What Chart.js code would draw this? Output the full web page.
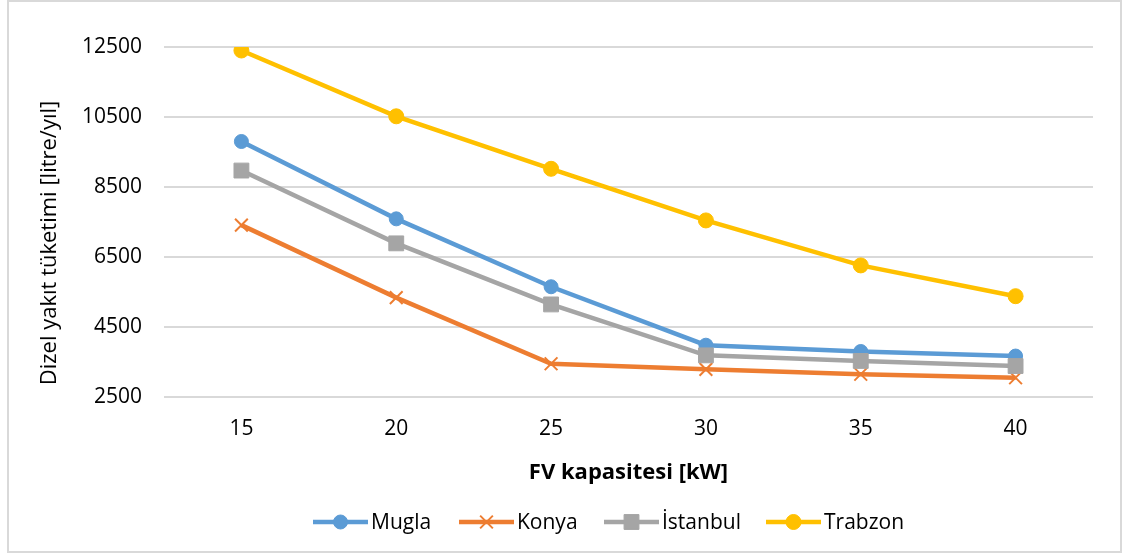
<!DOCTYPE html>
<html>
<head>
<meta charset="utf-8">
<script src="https://cdn.jsdelivr.net/npm/chart.js@4"></script>
<style>
  html, body { margin: 0; padding: 0; background: #fff; }
  #wrap { width: 1125px; height: 554px; position: relative; }
</style>
</head>
<body>
<div id="wrap"><canvas id="c" width="1125" height="554"></canvas></div>
<script>
const categories = ['15', '20', '25', '30', '35', '40'];
const mugla    = [9800, 7590, 5650, 3980, 3800, 3670];
const konya    = [7410, 5340, 3450, 3290, 3150, 3050];
const istanbul = [8970, 6890, 5145, 3690, 3530, 3385];
const trabzon  = [12400, 10520, 9020, 7545, 6260, 5380];
const seriesNames = ['Mugla', 'Konya', 'İstanbul', 'Trabzon'];
const yTitle = 'Dizel yakıt tüketimi [litre/yıl]';
const xTitle = 'FV kapasitesi [kW]';

const FONT = "'Open Sans', 'DejaVu Sans', sans-serif";
const colors = ['#5B9BD5', '#ED7D31', '#A5A5A5', '#FFC000'];
const styles = [
  { pointStyle: 'circle', r: 7, bw: 1 },
  { pointStyle: 'crossRot', r: 9, bw: 2 },
  { pointStyle: 'rect', r: 10.5, bw: 1 },
  { pointStyle: 'circle', r: 7.5, bw: 1 }
];
const values = [mugla, konya, istanbul, trabzon];

const datasets = values.map((v, i) => ({
  label: seriesNames[i],
  data: v,
  borderColor: colors[i],
  backgroundColor: colors[i],
  borderWidth: 4.5,
  tension: 0,
  pointStyle: styles[i].pointStyle,
  pointRadius: styles[i].r,
  pointHoverRadius: styles[i].r,
  pointBorderWidth: styles[i].bw,
  pointBackgroundColor: colors[i],
  pointBorderColor: colors[i],
  order: 3 - i
}));

const decor = {
  id: 'decor',
  beforeDraw(chart) {
    const ctx = chart.ctx;
    ctx.save();
    ctx.fillStyle = '#fff';
    ctx.fillRect(0, 0, chart.width, chart.height);
    ctx.strokeStyle = '#D9D9D9';
    ctx.lineWidth = 2;
    ctx.strokeRect(8, 1, 1113, 551);
    ctx.restore();
  },
  afterDraw(chart) {
    const ctx = chart.ctx;
    ctx.save();
    ctx.translate(50, 243);
    ctx.rotate(-Math.PI / 2);
    ctx.font = '22px ' + FONT;
    ctx.fillStyle = '#000';
    ctx.textAlign = 'center';
    ctx.textBaseline = 'middle';
    ctx.fillText(yTitle, 0, 0);
    ctx.restore();

    const starts = [313, 459, 604, 766];
    const ly = 522;
    ctx.save();
    ctx.font = '21px ' + FONT;
    ctx.textBaseline = 'middle';
    ctx.textAlign = 'left';
    seriesNames.forEach((name, i) => {
      const x0 = starts[i];
      ctx.strokeStyle = colors[i];
      ctx.lineWidth = 4.5;
      ctx.beginPath();
      ctx.moveTo(x0, ly);
      ctx.lineTo(x0 + 55, ly);
      ctx.stroke();
      ctx.fillStyle = colors[i];
      ctx.strokeStyle = colors[i];
      ctx.lineWidth = styles[i].bw;
      Chart.helpers.drawPoint(ctx, {
        pointStyle: styles[i].pointStyle,
        radius: styles[i].r,
        borderWidth: styles[i].bw,
        rotation: 0
      }, x0 + 27.5, ly);
      ctx.fillStyle = '#000';
      ctx.fillText(name, x0 + 58, ly + 1);
    });
    ctx.restore();
  }
};

new Chart(document.getElementById('c'), {
  type: 'line',
  data: { labels: categories, datasets },
  options: {
    responsive: false,
    animation: false,
    events: [],
    layout: { padding: { left: 0, right: 32, top: 47, bottom: 59 } },
    plugins: { legend: { display: false }, tooltip: { enabled: false } },
    scales: {
      x: {
        type: 'category',
        offset: true,
        grid: { display: false, drawTicks: false },
        border: { display: false },
        ticks: { color: '#000', font: { family: FONT, size: 21 }, padding: 19, maxRotation: 0 },
        title: { display: true, text: xTitle, color: '#000', font: { family: FONT, size: 22, weight: 'bold' }, padding: { top: 0, bottom: 9 } },
        afterFit(s) { s.height = 98; }
      },
      y: {
        min: 2500,
        max: 12500,
        ticks: { stepSize: 2000, color: '#000', font: { family: FONT, size: 21 }, padding: 22, callback: (v) => String(v) },
        grid: { color: '#D9D9D9', lineWidth: 2, drawTicks: false },
        border: { display: false },
        afterFit(s) { s.width = 164; }
      }
    }
  },
  plugins: [decor]
});
</script>
</body>
</html>
